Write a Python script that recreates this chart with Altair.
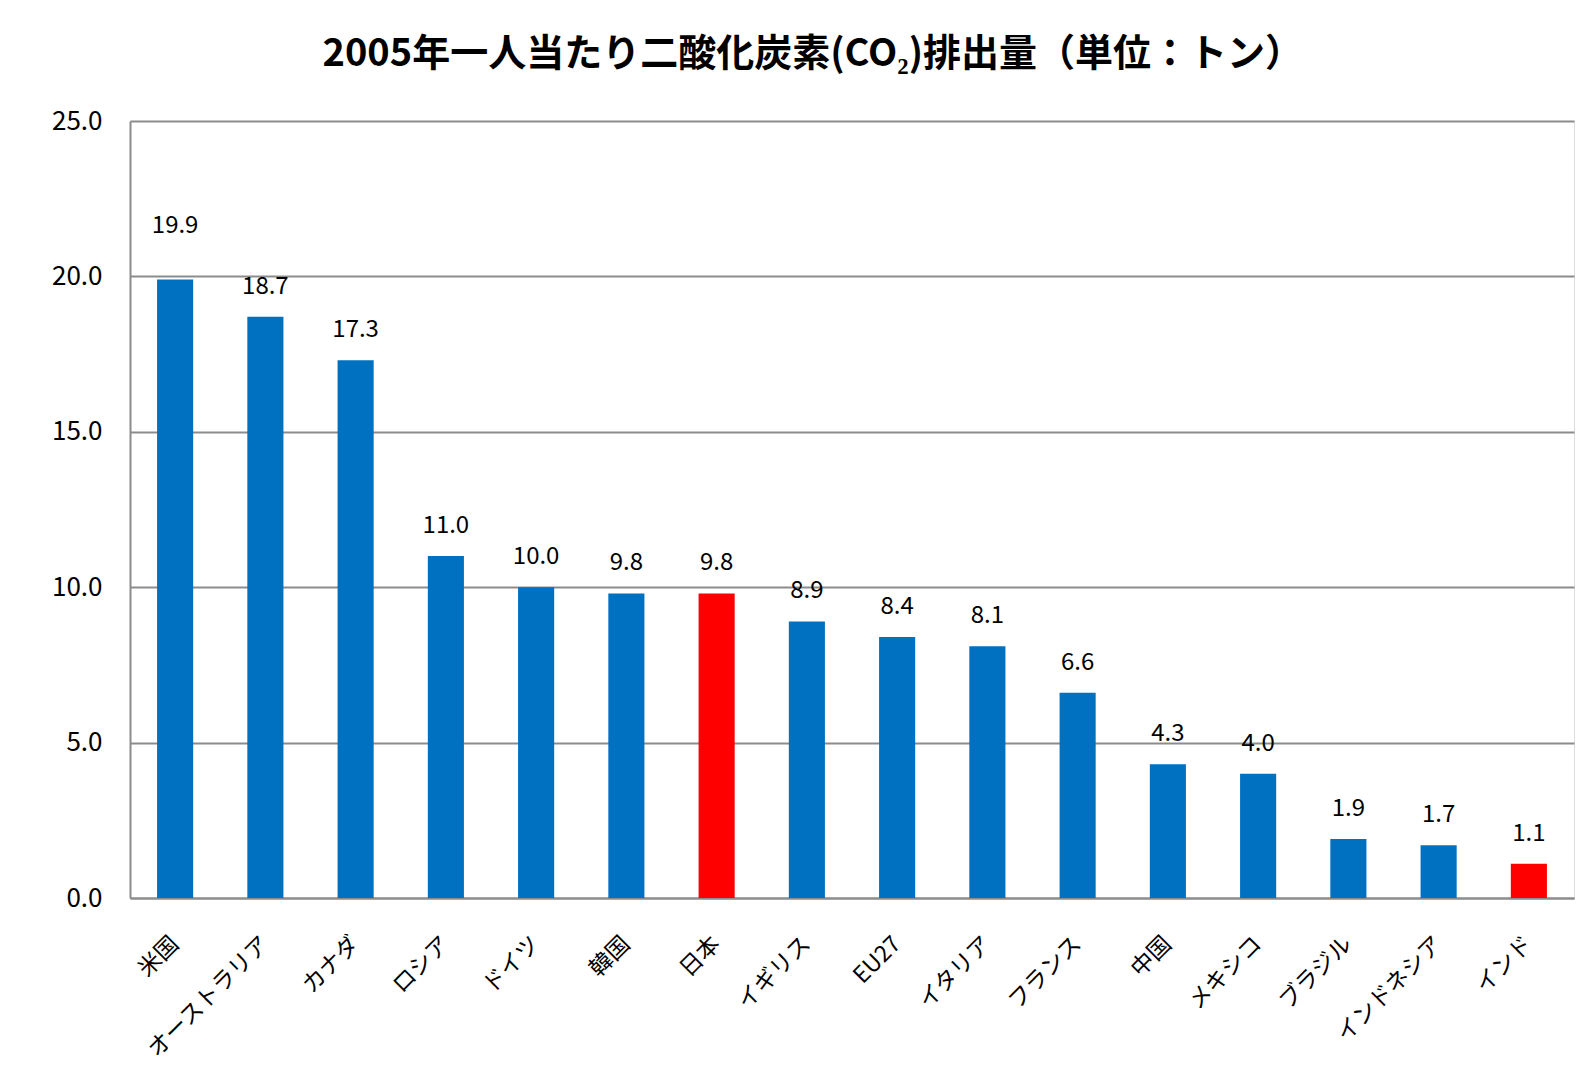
import altair as alt
import pandas as pd

countries = ["米国", "オーストラリア", "カナダ", "ロシア", "ドイツ", "韓国", "日本", "イギリス",
             "EU27", "イタリア", "フランス", "中国", "メキシコ", "ブラジル", "インドネシア", "インド"]
values = [19.9, 18.7, 17.3, 11.0, 10.0, 9.8, 9.8, 8.9, 8.4, 8.1, 6.6, 4.3, 4.0, 1.9, 1.7, 1.1]
highlight = ["日本", "インド"]
y_ticks = [0, 5, 10, 15, 20, 25]

df = pd.DataFrame({
    "country": countries,
    "value": values,
    "group": ["hl" if c in highlight else "base" for c in countries],
})

FONT = "Noto Sans CJK JP"

x = alt.X("country:N", sort=countries, title=None,
          scale=alt.Scale(paddingInner=0.6, paddingOuter=0.3),
          axis=alt.Axis(labelAngle=-45, labelAlign="right", labelBaseline="middle",
                        labelPadding=42, labelFontSize=23, ticks=False,
                        domainColor="#8c8c8c", domainWidth=2, labelColor="#000000",
                        labelFont=FONT))
y = alt.Y("value:Q", title=None,
          scale=alt.Scale(domain=[0, 25], nice=False),
          axis=alt.Axis(values=y_ticks, format=".1f", ticks=False, labelPadding=28,
                        labelFontSize=26, gridColor="#8c8c8c", gridWidth=2,
                        domainColor="#8c8c8c", domainWidth=2, labelColor="#000000",
                        labelFont=FONT))

base = alt.Chart(df)

bars = base.mark_bar().encode(
    x=x, y=y,
    color=alt.Color("group:N", legend=None,
                    scale=alt.Scale(domain=["base", "hl"], range=["#0070C0", "#FF0000"])),
)

labels = base.transform_filter(alt.datum.country != countries[0]).mark_text(
    dy=-30, fontSize=24, font=FONT, color="#000000", baseline="middle"
).encode(x=x, y=y, text=alt.Text("value:Q", format=".1f"))

label_top = base.transform_filter(alt.datum.country == countries[0]).mark_text(
    dy=-54, fontSize=24, font=FONT, color="#000000", baseline="middle"
).encode(x=x, y=y, text=alt.Text("value:Q", format=".1f"))

chart = alt.layer(bars, labels, label_top).properties(
    width=1444,
    height=777,
    title=alt.TitleParams("2005年一人当たり二酸化炭素(CO₂)排出量（単位：トン）",
                          font=FONT, fontSize=38, fontWeight="bold", color="#000000",
                          anchor="middle", frame="bounds", offset=34),
    padding={"left": 43, "top": 28, "right": 6, "bottom": 6},
).configure_view(stroke=None).configure(background="#ffffff")

chart.save("out.html", embed_options={"renderer": "svg", "actions": False})
